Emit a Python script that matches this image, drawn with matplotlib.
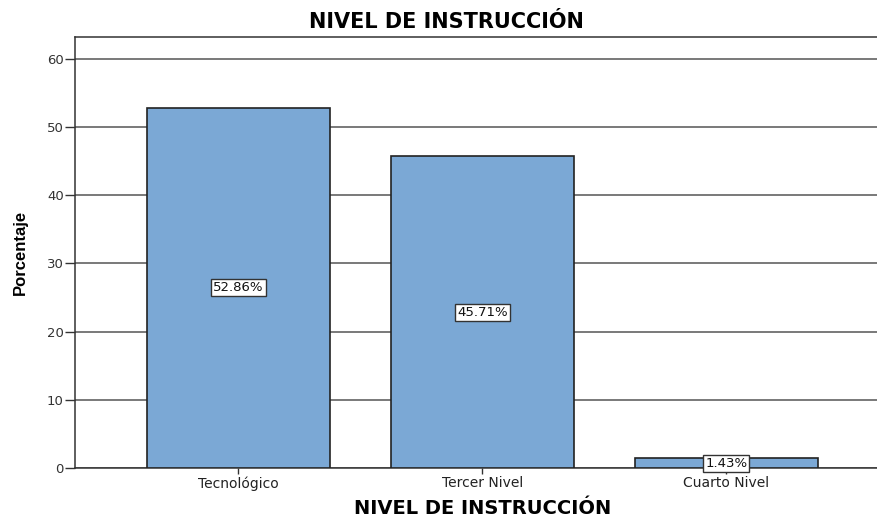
import matplotlib.pyplot as plt
from matplotlib.ticker import MultipleLocator

plt.rcParams['font.family'] = ['DejaVu Sans']

# data
categorias = ['Tecnológico', 'Tercer Nivel', 'Cuarto Nivel']
porcentajes = [52.86, 45.71, 1.43]
etiquetas = ['52.86%', '45.71%', '1.43%']

fig = plt.figure(figsize=(8.78, 5.17), dpi=100)
ax = fig.add_axes([75 / 878, 1 - 468 / 517, 1 - 75 / 878 + 0.001, (468 - 37) / 517])

x = range(len(categorias))
ax.bar(x, porcentajes, width=0.75, color='#7BA8D5', edgecolor='#222222', linewidth=1.2, zorder=3)

for xi, v, txt in zip(x, porcentajes, etiquetas):
    ax.text(xi, v / 2, txt, ha='center', va='center', fontsize=9.5, color='#111111', zorder=4,
            bbox=dict(boxstyle='square,pad=0.15', fc='white', ec='#333333', lw=1))

ax.set_xlim(-0.67, 2.625)
ax.set_ylim(0, 63.2)
ax.yaxis.set_major_locator(MultipleLocator(10))
ax.yaxis.grid(True, color='#555555', lw=1.1, zorder=0)

ax.spines['right'].set_visible(False)
for s in ['left', 'top', 'bottom']:
    ax.spines[s].set_color('#333333')
    ax.spines[s].set_linewidth(1.1)

ax.set_xticks(list(x))
ax.set_xticklabels(categorias, fontsize=10, color='#222222')
ax.tick_params(axis='y', direction='out', length=7, width=1, color='#333333', labelsize=9.5, labelcolor='#333333', pad=1)
ax.tick_params(axis='x', direction='out', length=4, width=1, color='#333333', pad=2)

ax.set_ylabel('Porcentaje', fontsize=12, fontweight='bold', family='Liberation Sans',
              fontstretch='condensed', labelpad=14)

# titles placed like the source chart
fig.text(483 / 878, 1 - 508 / 517, 'NIVEL DE INSTRUCCIÓN', ha='center', va='center',
         fontsize=14, fontweight='bold')
fig.text(446 / 878, 1 - 22 / 517, 'NIVEL DE INSTRUCCIÓN', ha='center', va='center',
         fontsize=15, fontweight='bold')

fig.savefig('out.png', dpi=100)
